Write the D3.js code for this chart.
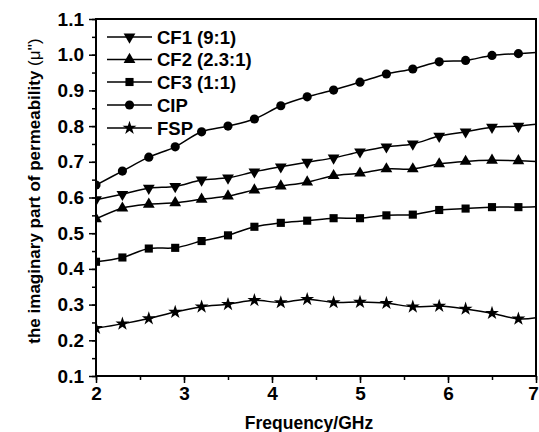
<!DOCTYPE html>
<html>
<head>
<meta charset="utf-8">
<script src="https://cdn.jsdelivr.net/npm/d3@7"></script>
<style>
  body { margin: 0; background: #fff; }
  svg { display: block; font-family: "Liberation Sans", Arial, sans-serif; font-weight: bold; }
</style>
</head>
<body>
<div id="chart"></div>
<script>
// frequency points (GHz); markers sit on every point but the last one
const freq = [2.0, 2.3, 2.6, 2.9, 3.2, 3.5, 3.8, 4.1, 4.4, 4.7, 5.0, 5.3, 5.6, 5.9, 6.2, 6.5, 6.8, 7.0];

const cf1 = [0.594, 0.609, 0.626, 0.631, 0.649, 0.655, 0.672, 0.686, 0.699, 0.711, 0.728, 0.742, 0.750, 0.772, 0.784, 0.797, 0.800, 0.805];
const cf2 = [0.540, 0.570, 0.581, 0.585, 0.595, 0.604, 0.621, 0.632, 0.643, 0.661, 0.668, 0.680, 0.680, 0.694, 0.701, 0.704, 0.703, 0.701];
const cf3 = [0.420, 0.432, 0.457, 0.459, 0.478, 0.494, 0.518, 0.529, 0.535, 0.542, 0.542, 0.550, 0.552, 0.565, 0.569, 0.573, 0.573, 0.574];
const cip = [0.635, 0.674, 0.713, 0.742, 0.784, 0.800, 0.820, 0.857, 0.882, 0.901, 0.923, 0.946, 0.960, 0.980, 0.984, 0.998, 1.003, 1.006];
const fsp = [0.234, 0.246, 0.261, 0.279, 0.294, 0.301, 0.312, 0.306, 0.315, 0.306, 0.307, 0.304, 0.294, 0.296, 0.288, 0.276, 0.260, 0.263];

const seriesNames = ["CF1 (9:1)", "CF2 (2.3:1)", "CF3 (1:1)", "CIP", "FSP"];
const seriesValues = [cf1, cf2, cf3, cip, fsp];

const xTicks = [2, 3, 4, 5, 6, 7];
const yTicks = [0.1, 0.2, 0.3, 0.4, 0.5, 0.6, 0.7, 0.8, 0.9, 1.0, 1.1];

const width = 539, height = 432;
const margin = {left: 96, right: 3, top: 19, bottom: 56};

const svg = d3.select("#chart").append("svg")
    .attr("width", width)
    .attr("height", height);

const x = d3.scaleLinear().domain([2, 7]).range([margin.left, width - margin.right]);
const y = d3.scaleLinear().domain([0.1, 1.1]).range([height - margin.bottom, margin.top]);

// marker shapes per series
const shapes = [
    {type: d3.symbolTriangle, size: 60, rot: 180},
    {type: d3.symbolTriangle, size: 60, rot: 0},
    {type: d3.symbolSquare, size: 66, rot: 0},
    {type: d3.symbolCircle, size: 66, rot: 0},
    {type: d3.symbolStar, size: 60, rot: 0}
];

svg.append("clipPath").attr("id", "plotClip")
    .append("rect")
    .attr("x", x(2)).attr("y", y(1.1))
    .attr("width", x(7) - x(2)).attr("height", y(0.1) - y(1.1));

const plot = svg.append("g").attr("clip-path", "url(#plotClip)");

const line = d3.line()
    .x(d => x(d[0]))
    .y(d => y(d[1]))
    .curve(d3.curveCatmullRom);

seriesValues.forEach((vals, i) => {
    const pts = freq.map((f, k) => [f, vals[k]]);
    plot.append("path")
        .attr("d", line(pts))
        .attr("fill", "none")
        .attr("stroke", "#000")
        .attr("stroke-width", 1.5);

    const sym = d3.symbol().type(shapes[i].type).size(shapes[i].size);
    plot.selectAll(null)
        .data(pts.slice(0, pts.length - 1))
        .enter()
        .append("path")
        .attr("d", sym)
        .attr("fill", "#000")
        .attr("transform", d => "translate(" + x(d[0]) + "," + y(d[1]) + ") rotate(" + shapes[i].rot + ")");
});

// frame
svg.append("rect")
    .attr("x", x(2)).attr("y", y(1.1))
    .attr("width", x(7) - x(2)).attr("height", y(0.1) - y(1.1))
    .attr("fill", "none")
    .attr("stroke", "#000")
    .attr("stroke-width", 2);

// x axis
const xAxis = svg.append("g").attr("transform", "translate(0," + y(0.1) + ")");
xAxis.call(d3.axisBottom(x).tickValues(d3.range(2, 7.01, 0.5)).tickSize(4).tickFormat(""))
    .call(g => g.select(".domain").remove())
    .call(g => g.selectAll("line").attr("stroke-width", 1.5));
xAxis.append("g")
    .call(d3.axisBottom(x).tickValues(xTicks).tickSize(7).tickPadding(4).tickFormat(d3.format("d")))
    .call(g => g.select(".domain").remove())
    .call(g => g.selectAll("line").attr("stroke-width", 1.5))
    .call(g => g.selectAll("text")
        .attr("font-family", "'Liberation Sans', Arial, sans-serif")
        .attr("font-weight", "bold")
        .attr("font-size", 19)
        .attr("fill", "#000"))
    .call(g => g.selectAll("text").filter(d => d === 7).attr("dx", -3));

// y axis
const yAxis = svg.append("g").attr("transform", "translate(" + x(2) + ",0)");
yAxis.call(d3.axisLeft(y).tickValues(d3.range(0.1, 1.101, 0.05)).tickSize(4).tickFormat(""))
    .call(g => g.select(".domain").remove())
    .call(g => g.selectAll("line").attr("stroke-width", 1.5));
yAxis.append("g")
    .call(d3.axisLeft(y).tickValues(yTicks).tickSize(7).tickPadding(5).tickFormat(d3.format(".1f")))
    .call(g => g.select(".domain").remove())
    .call(g => g.selectAll("line").attr("stroke-width", 1.5))
    .call(g => g.selectAll("text")
        .attr("font-family", "'Liberation Sans', Arial, sans-serif")
        .attr("font-weight", "bold")
        .attr("font-size", 19)
        .attr("fill", "#000"));

// axis titles
svg.append("text")
    .attr("x", (x(2) + x(7)) / 2 - 7)
    .attr("y", 429)
    .attr("text-anchor", "middle")
    .attr("font-size", 17.5)
    .text("Frequency/GHz");

const yTitle = svg.append("text")
    .attr("transform", "translate(40," + 191 + ") rotate(-90)")
    .attr("text-anchor", "middle")
    .attr("font-size", 17);
yTitle.append("tspan").text("the imaginary part of permeability ");
yTitle.append("tspan").attr("font-weight", "normal").text("(μ'')");

// legend
const legend = svg.append("g");
const legendY = [37, 59.5, 82, 105, 128];
seriesNames.forEach((name, i) => {
    const row = legend.append("g").attr("transform", "translate(107," + legendY[i] + ")");
    row.append("line")
        .attr("x1", 0).attr("x2", 45)
        .attr("stroke", "#000").attr("stroke-width", 1.5);
    row.append("path")
        .attr("d", d3.symbol().type(shapes[i].type).size(shapes[i].size))
        .attr("transform", "translate(22.5,0) rotate(" + shapes[i].rot + ")")
        .attr("fill", "#000");
    row.append("text")
        .attr("x", 50)
        .attr("dy", "0.36em")
        .attr("font-size", 18.5)
        .text(name);
});
</script>
</body>
</html>
